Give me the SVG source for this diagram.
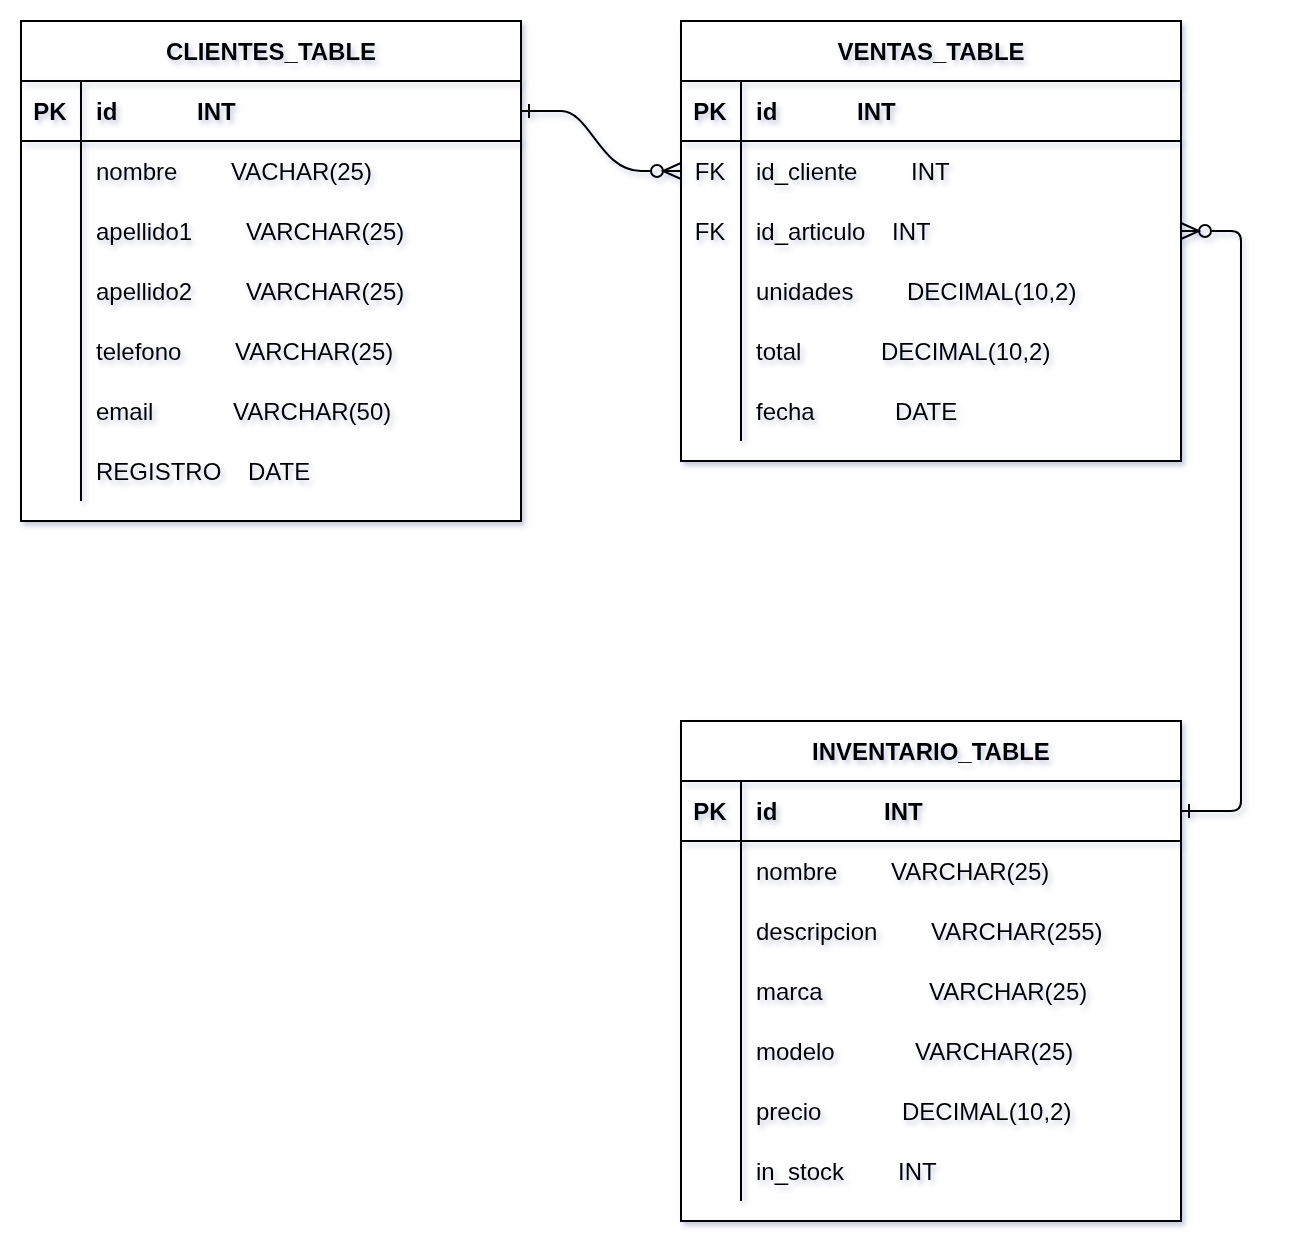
<svg xmlns="http://www.w3.org/2000/svg" width="1292" height="1254" viewBox="0 0 1292 1254">
<defs>
<filter id="sh" filterUnits="userSpaceOnUse" x="0" y="0" width="1292" height="1254">
<feDropShadow dx="3" dy="4" stdDeviation="2.5" flood-color="#4a5590" flood-opacity="0.3"/>
</filter>
</defs>
<style>
text{font-family:"Liberation Sans",Arial,sans-serif;font-size:24px;fill:#000;filter:url(#sh)}
.b{font-weight:bold}
.c{text-anchor:middle}
.box{fill:#fff;stroke:#000;stroke-width:2;filter:url(#sh)}
.ln{stroke:#000;stroke-width:2;fill:none;filter:url(#sh)}
.cn{stroke:#000;stroke-width:2;fill:none}
</style>
<rect width="1292" height="1254" fill="#fff"/>
<g id="clientes">
<rect class="box" x="21" y="21" width="500" height="500"/>
<line class="ln" x1="21" y1="81" x2="521" y2="81"/>
<line class="ln" x1="21" y1="141" x2="521" y2="141"/>
<line class="ln" x1="81" y1="81" x2="81" y2="501"/>
<text class="b c" x="271" y="60">CLIENTES_TABLE</text>
<text class="b c" x="50" y="120">PK</text>
<text class="b" x="96" y="120">id</text><text class="b" x="197" y="120">INT</text>
<text x="96" y="180">nombre</text><text x="231" y="180">VACHAR(25)</text>
<text x="96" y="240">apellido1</text><text x="246" y="240">VARCHAR(25)</text>
<text x="96" y="300">apellido2</text><text x="246" y="300">VARCHAR(25)</text>
<text x="96" y="360">telefono</text><text x="235" y="360">VARCHAR(25)</text>
<text x="96" y="420">email</text><text x="233" y="420">VARCHAR(50)</text>
<text x="96" y="480">REGISTRO</text><text x="248" y="480">DATE</text>
</g>
<g id="ventas">
<rect class="box" x="681" y="21" width="500" height="440"/>
<line class="ln" x1="681" y1="81" x2="1181" y2="81"/>
<line class="ln" x1="681" y1="141" x2="1181" y2="141"/>
<line class="ln" x1="741" y1="81" x2="741" y2="441"/>
<text class="b c" x="931" y="60">VENTAS_TABLE</text>
<text class="b c" x="710" y="120">PK</text>
<text class="b" x="756" y="120">id</text><text class="b" x="857" y="120">INT</text>
<text class="c" x="710" y="180">FK</text>
<text x="756" y="180">id_cliente</text><text x="911" y="180">INT</text>
<text class="c" x="710" y="240">FK</text>
<text x="756" y="240">id_articulo</text><text x="892" y="240">INT</text>
<text x="756" y="300">unidades</text><text x="907" y="300">DECIMAL(10,2)</text>
<text x="756" y="360">total</text><text x="881" y="360">DECIMAL(10,2)</text>
<text x="756" y="420">fecha</text><text x="895" y="420">DATE</text>
</g>
<g id="inventario">
<rect class="box" x="681" y="721" width="500" height="500"/>
<line class="ln" x1="681" y1="781" x2="1181" y2="781"/>
<line class="ln" x1="681" y1="841" x2="1181" y2="841"/>
<line class="ln" x1="741" y1="781" x2="741" y2="1201"/>
<text class="b c" x="931" y="760">INVENTARIO_TABLE</text>
<text class="b c" x="710" y="820">PK</text>
<text class="b" x="756" y="820">id</text><text class="b" x="884" y="820">INT</text>
<text x="756" y="880">nombre</text><text x="891" y="880">VARCHAR(25)</text>
<text x="756" y="940">descripcion</text><text x="931" y="940">VARCHAR(255)</text>
<text x="756" y="1000">marca</text><text x="929" y="1000">VARCHAR(25)</text>
<text x="756" y="1060">modelo</text><text x="915" y="1060">VARCHAR(25)</text>
<text x="756" y="1120">precio</text><text x="902" y="1120">DECIMAL(10,2)</text>
<text x="756" y="1180">in_stock</text><text x="898" y="1180">INT</text>
</g>
<g id="connectors" filter="url(#sh)">
<path class="cn" d="M521 111 L561 111 C590 111 600 171 641 171 L651 171"/>
<line class="cn" x1="529" y1="104" x2="529" y2="118"/>
<circle class="cn" cx="657" cy="171" r="6" fill="#fff"/>
<path class="cn" d="M681 163 L663 171 L681 179 M663 171 L681 171"/>
<path class="cn" d="M1211 231 L1231 231 Q1241 231 1241 241 L1241 801 Q1241 811 1231 811 L1181 811"/>
<line class="cn" x1="1189" y1="804" x2="1189" y2="818"/>
<circle class="cn" cx="1205" cy="231" r="6" fill="#fff"/>
<path class="cn" d="M1181 223 L1199 231 L1181 239 M1181 231 L1199 231"/>
</g>
</svg>
